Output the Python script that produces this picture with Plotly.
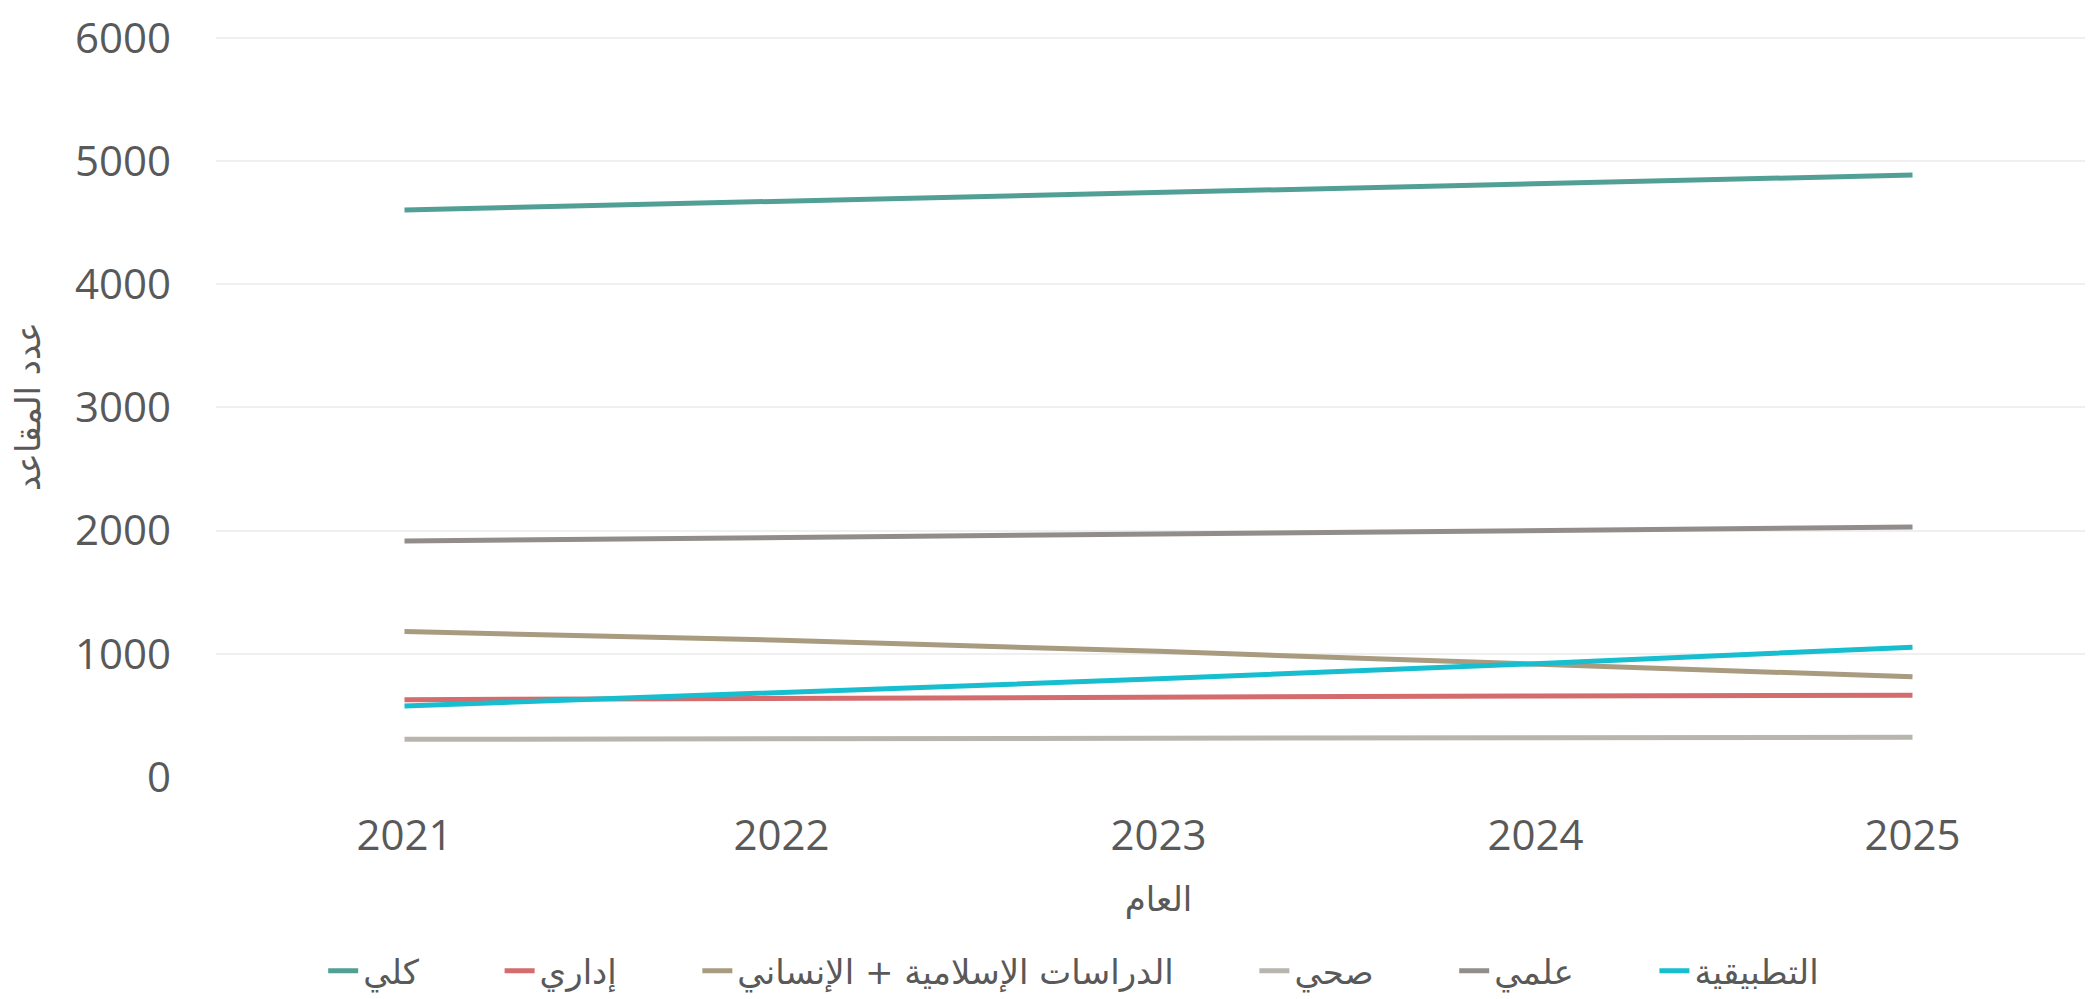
import plotly.graph_objects as go

years = ["2021", "2022", "2023", "2024", "2025"]

names = ["كلي", "إداري", "الدراسات الإسلامية + الإنساني", "صحي", "علمي", "التطبيقية"]
kulli = [4604, 4675, 4745, 4816, 4887]
idari = [628, 640, 650, 658, 663]
dirasat = [1181, 1110, 1020, 920, 813]
sihhi = [306, 312, 318, 321, 323]
ilmi = [1916, 1944, 1972, 2001, 2029]
tatbiqiya = [576, 685, 797, 920, 1054]
colors = ["#52A095", "#D46B6D", "#A89B7F", "#B8B4AE", "#928D8A", "#17BECF"]

series = [kulli, idari, dirasat, sihhi, ilmi, tatbiqiya]

pad = "\u00a0" * 7  # spacing after each legend entry

fig = go.Figure()
for i, (name, vals, col) in enumerate(zip(names, series, colors)):
    label = name + (pad if i < len(names) - 1 else "")
    fig.add_trace(go.Scatter(x=years, y=vals, mode="lines", name=label,
                             line=dict(color=col, width=5)))

txt = "#595959"
fig.update_layout(
    width=2093, height=999,
    margin=dict(l=208, r=0, t=28, b=230),
    paper_bgcolor="white", plot_bgcolor="white",
    font=dict(family="Open Sans, DejaVu Sans", color=txt),
    xaxis=dict(type="category", range=[-0.5, 4.5], showgrid=False, zeroline=False,
               showline=False, ticks="", ticklabelstandoff=30, automargin=False,
               tickfont=dict(size=42, color=txt),
               title=dict(text="العام", font=dict(size=34, family="DejaVu Sans", color=txt), standoff=26)),
    yaxis=dict(range=[0, 6016], tickvals=[0, 1000, 2000, 3000, 4000, 5000, 6000],
               showgrid=True, gridcolor="#EFEFEF", gridwidth=1.5, automargin=False,
               zeroline=False, showline=False, ticks="", ticklabelstandoff=44,
               ticklabeloverflow="allow",
               tickfont=dict(size=42, color=txt),
               title=dict(text="عدد المقاعد", font=dict(size=34, family="DejaVu Sans", color=txt), standoff=31)),
    legend=dict(orientation="h", x=0.455, xanchor="center", y=-0.262, yanchor="middle",
                font=dict(size=34, family="DejaVu Sans", color=txt),
                traceorder="normal"),
)

fig.write_html("out.html")
